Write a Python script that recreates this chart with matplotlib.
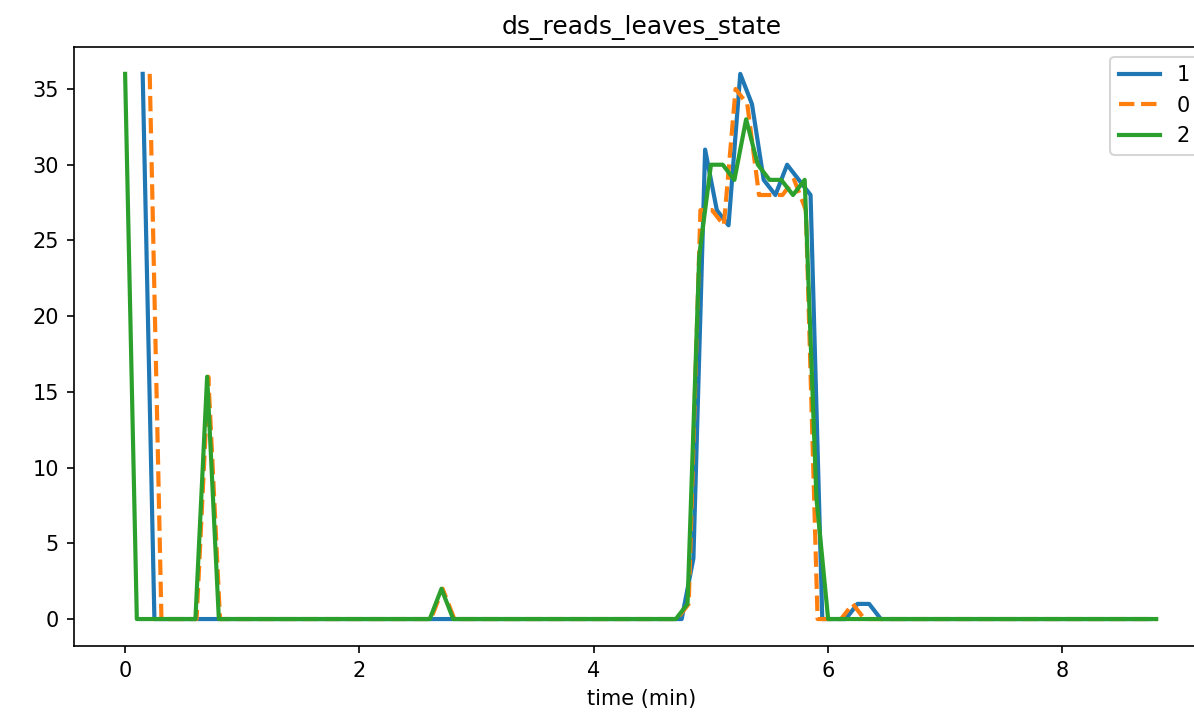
import numpy as np
import matplotlib
matplotlib.use("Agg")
import matplotlib.pyplot as plt

title = "ds_reads_leaves_state"
xlabel = "time (min)"
series_names = ["1", "0", "2"]

# sampling: start time (min) and step (min) of each series
start_1, start_0, start_2 = 0.15, 0.21, 0.0
step = 0.1

values_1 = [36, 0, 0, 0, 0, 0, 0, 0, 0, 0,
            0, 0, 0, 0, 0, 0, 0, 0, 0, 0,
            0, 0, 0, 0, 0, 0, 0, 0, 0, 0,
            0, 0, 0, 0, 0, 0, 0, 0, 0, 0,
            0, 0, 0, 0, 0, 0, 0, 4, 31, 27,
            26, 36, 34, 29, 28, 30, 29, 28, 0, 0,
            0, 1, 1, 0, 0, 0, 0, 0, 0, 0,
            0, 0, 0, 0, 0, 0, 0, 0, 0, 0,
            0, 0, 0, 0, 0, 0, 0]

values_0 = [36, 0, 0, 0, 0, 16, 0, 0, 0, 0,
            0, 0, 0, 0, 0, 0, 0, 0, 0, 0,
            0, 0, 0, 0, 0, 2, 0, 0, 0, 0,
            0, 0, 0, 0, 0, 0, 0, 0, 0, 0,
            0, 0, 0, 0, 0, 0, 1, 27, 27, 26,
            35, 34, 28, 28, 28, 29, 27, 0, 0, 0,
            1, 0, 0, 0, 0, 0, 0, 0, 0, 0,
            0, 0, 0, 0, 0, 0, 0, 0, 0, 0,
            0, 0, 0, 0, 0, 0, 0]

values_2 = [36, 0, 0, 0, 0, 0, 0, 16, 0, 0,
            0, 0, 0, 0, 0, 0, 0, 0, 0, 0,
            0, 0, 0, 0, 0, 0, 0, 2, 0, 0,
            0, 0, 0, 0, 0, 0, 0, 0, 0, 0,
            0, 0, 0, 0, 0, 0, 0, 0, 1, 24,
            30, 30, 29, 33, 30, 29, 29, 28, 29, 8,
            0, 0, 0, 0, 0, 0, 0, 0, 0, 0,
            0, 0, 0, 0, 0, 0, 0, 0, 0, 0,
            0, 0, 0, 0, 0, 0, 0, 0, 0]

t_1 = start_1 + step * np.arange(len(values_1))
t_0 = start_0 + step * np.arange(len(values_0))
t_2 = start_2 + step * np.arange(len(values_2))

W, H, DPI = 1194, 719, 150
fig = plt.figure(figsize=(W / DPI, H / DPI), dpi=DPI)
ax = fig.add_axes([73.5 / W, 1 - 646.3 / H, (1209 - 73.5) / W, (646.3 - 46.6) / H])

ax.plot(t_1, values_1, color="#1f77b4", lw=2, label=series_names[0])
ax.plot(t_0, values_0, color="#ff7f0e", lw=2, ls="--", label=series_names[1])
ax.plot(t_2, values_2, color="#2ca02c", lw=2, label=series_names[2])

ax.set_title(title)
ax.set_xlabel(xlabel)
ax.legend(loc="upper right")

fig.savefig("out.png", dpi=DPI)
